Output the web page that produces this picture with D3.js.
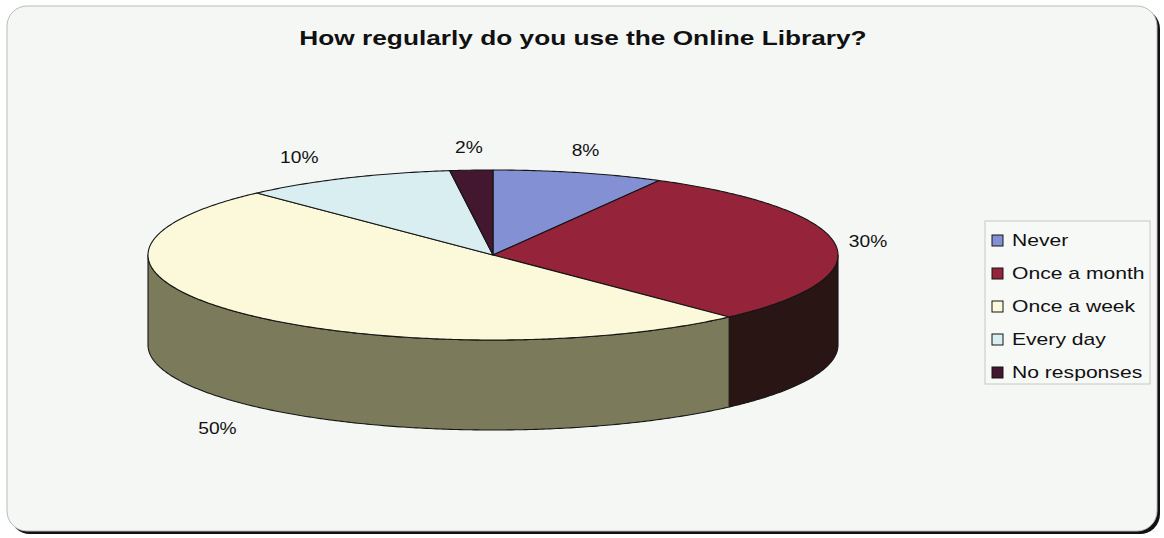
<!DOCTYPE html>
<html>
<head>
<meta charset="utf-8">
<script src="https://cdn.jsdelivr.net/npm/d3@7/dist/d3.min.js"></script>
<style>
  html, body { margin: 0; padding: 0; background: #ffffff; }
  svg { display: block; font-family: "Liberation Sans", Arial, sans-serif; }
</style>
</head>
<body>
<svg id="chart" width="1164" height="538"></svg>
<script>
// Survey answers: how often respondents use the Online Library (percent)
const categories = ["Never", "Once a month", "Once a week", "Every day", "No responses"];
const shares = [8, 30, 50, 10, 2];
const shareLabels = ["8%", "30%", "50%", "10%", "2%"];
const chartTitle = "How regularly do you use the Online Library?";

// Slice colours (top face, then the darker side wall)
const topColors  = ["#8391d4", "#95243a", "#fbf9da", "#d9eef0", "#42172f"];
const sideColors = ["#4a5480", "#2a1515", "#7b7b5b", "#7a8a8a", "#1e0a16"];

const W = 1164, H = 538;
const svg = d3.select("#chart");
const stretch = 1.25;   // the printed fonts run wide

// Frame with a dark drop edge on the right and bottom
svg.append("rect").attr("x", 10).attr("y", 9).attr("width", 1150).attr("height", 525)
  .attr("rx", 20).attr("fill", "#111");
svg.append("rect").attr("x", 7).attr("y", 6).attr("width", 1150).attr("height", 525)
  .attr("rx", 20).attr("fill", "#f5f7f5").attr("stroke", "#b8bcb8").attr("stroke-width", 1);

// Title
svg.append("text")
  .attr("transform", `translate(583,45) scale(${stretch},1)`)
  .attr("text-anchor", "middle")
  .attr("font-size", 21).attr("font-weight", "bold").attr("fill", "#111")
  .text(chartTitle);

// 3D pie geometry
const cx = 493, cy = 255, rx = 345, ry = 85, depth = 90;
const sx = d3.scaleLinear().domain([-1, 1]).range([cx - rx, cx + rx]);
const sy = d3.scaleLinear().domain([-1, 1]).range([cy - ry, cy + ry]);
const px = a => sx(Math.sin(a));
const py = a => sy(-Math.cos(a));

const pie = d3.pie().sort(null).value(d => d).startAngle(0).endAngle(2 * Math.PI);
const arcs = pie(shares).map((d, i) => ({ ...d, i }));

function arcPoints(a0, a1, dy) {
  const n = Math.max(2, Math.ceil(Math.abs(a1 - a0) / 0.01));
  return d3.range(n + 1).map(k => {
    const a = a0 + (a1 - a0) * k / n;
    return [px(a), py(a) + dy];
  });
}
const line = d3.line();

const g = svg.append("g");

// Side walls: only the front half (angles between 90° and 270°) shows
const walls = arcs.map(d => {
  const a0 = Math.max(d.startAngle, Math.PI / 2);
  const a1 = Math.min(d.endAngle, 3 * Math.PI / 2);
  return a1 > a0 ? { d, a0, a1 } : null;
}).filter(Boolean);

g.selectAll("path.wall").data(walls).join("path")
  .attr("class", "wall")
  .attr("d", w => {
    const top = arcPoints(w.a0, w.a1, 0);
    const bottom = arcPoints(w.a1, w.a0, depth);
    return line(top.concat(bottom)) + "Z";
  })
  .attr("fill", w => sideColors[w.d.i])
  .attr("stroke", "#151515").attr("stroke-width", 1.1).attr("stroke-linejoin", "round");

// Top faces
g.selectAll("path.top").data(arcs).join("path")
  .attr("class", "top")
  .attr("d", d => line([[cx, cy]].concat(arcPoints(d.startAngle, d.endAngle, 0))) + "Z")
  .attr("fill", d => topColors[d.i])
  .attr("stroke", "#151515").attr("stroke-width", 1.1).attr("stroke-linejoin", "round");

// Percentage labels, placed just outside each slice
const lblFont = 16;
arcs.forEach(d => {
  const mid = (d.startAngle + d.endAngle) / 2;
  const s = Math.sin(mid), c = Math.cos(mid);
  const ax = cx + (rx + 15 + Math.max(0, -s * c) * 200) * s;
  const ay = cy - (ry + (c < 0 ? 28 : 15)) * c + (c < 0 ? depth : 0);
  const label = shareLabels[d.i];
  const w = label.length * lblFont * 0.6 * stretch;
  const tx = ax + s * w / 2;
  const ty = ay - c * lblFont * 0.5 + lblFont * 0.36;
  svg.append("text")
    .attr("transform", `translate(${tx},${ty}) scale(${stretch - 0.05},1)`)
    .attr("text-anchor", "middle")
    .attr("font-size", lblFont).attr("fill", "#111")
    .text(label);
});

// Legend
const legend = svg.append("g");
legend.append("rect").attr("x", 985).attr("y", 221).attr("width", 165).attr("height", 163)
  .attr("fill", "#f7f9f7").attr("stroke", "#c4c8c4").attr("stroke-width", 1);
const ly = d3.scalePoint().domain(categories).range([240, 372]);
const rows = legend.selectAll("g.item").data(categories).join("g").attr("class", "item");
rows.append("rect")
  .attr("x", 992).attr("y", d => ly(d) - 5).attr("width", 11).attr("height", 11)
  .attr("fill", (d, i) => topColors[i]).attr("stroke", "#151515").attr("stroke-width", 1);
rows.append("text")
  .attr("transform", d => `translate(1012,${ly(d) + 6}) scale(1.32,1)`)
  .attr("font-size", 16).attr("fill", "#111")
  .text(d => d);
</script>
</body>
</html>
